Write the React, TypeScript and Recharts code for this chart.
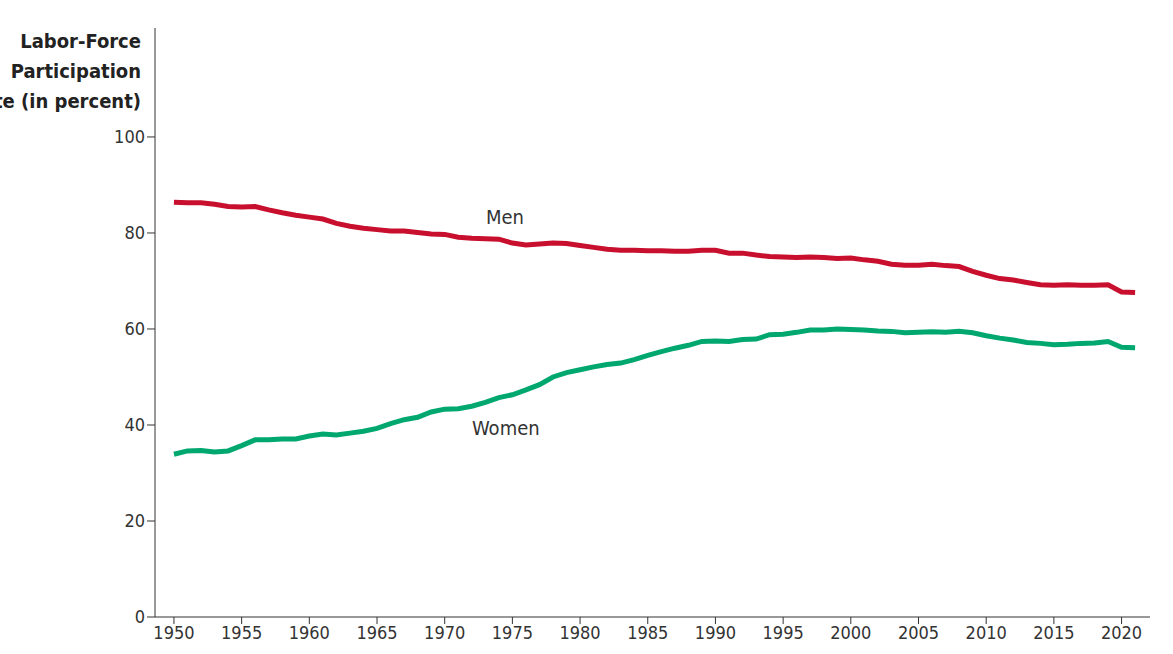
import { LineChart, Line, XAxis, YAxis } from "recharts";

const years = Array.from({ length: 72 }, (_, i) => 1950 + i);
const men = [86.4, 86.3, 86.3, 86.0, 85.5, 85.4, 85.5, 84.8, 84.2, 83.7, 83.3, 82.9, 82.0, 81.4, 81.0, 80.7, 80.4, 80.4, 80.1, 79.8, 79.7, 79.1, 78.9, 78.8, 78.7, 77.9, 77.5, 77.7, 77.9, 77.8, 77.4, 77.0, 76.6, 76.4, 76.4, 76.3, 76.3, 76.2, 76.2, 76.4, 76.4, 75.8, 75.8, 75.4, 75.1, 75.0, 74.9, 75.0, 74.9, 74.7, 74.8, 74.4, 74.1, 73.5, 73.3, 73.3, 73.5, 73.2, 73.0, 72.0, 71.2, 70.5, 70.2, 69.7, 69.2, 69.1, 69.2, 69.1, 69.1, 69.2, 67.7, 67.6];
const women = [33.9, 34.6, 34.7, 34.4, 34.6, 35.7, 36.9, 36.9, 37.1, 37.1, 37.7, 38.1, 37.9, 38.3, 38.7, 39.3, 40.3, 41.1, 41.6, 42.7, 43.3, 43.4, 43.9, 44.7, 45.7, 46.3, 47.3, 48.4, 50.0, 50.9, 51.5, 52.1, 52.6, 52.9, 53.6, 54.5, 55.3, 56.0, 56.6, 57.4, 57.5, 57.4, 57.8, 57.9, 58.8, 58.9, 59.3, 59.8, 59.8, 60.0, 59.9, 59.8, 59.6, 59.5, 59.2, 59.3, 59.4, 59.3, 59.5, 59.2, 58.6, 58.1, 57.7, 57.2, 57.0, 56.7, 56.8, 57.0, 57.1, 57.4, 56.2, 56.1];
const xTicks = [1950, 1955, 1960, 1965, 1970, 1975, 1980, 1985, 1990, 1995, 2000, 2005, 2010, 2015, 2020];
const yTicks = [0, 20, 40, 60, 80, 100];
const titleLines = ["Labor-Force", "Participation", "Rate (in percent)"];

const data = years.map((year, i) => ({ year, men: men[i], women: women[i] }));
const font = "'DejaVu Sans Condensed', 'DejaVu Sans', sans-serif";
const tick = { fontSize: 18, fill: "#333", fontFamily: font, style: { fontStretch: "condensed" } };

export default function App() {
  return (
    <div style={{ position: "absolute", left: 0, top: 0, width: 1173, height: 654, background: "#fff", fontStretch: "condensed" }}>
      <LineChart width={1173} height={654} data={data} margin={{ top: 28, right: 23, bottom: 0, left: 0 }}>
        <XAxis dataKey="year" type="number" domain={[1948.6, 2022.1]} ticks={xTicks} tick={tick}
          stroke="#333" tickSize={7} height={37} interval={0} />
        <YAxis type="number" domain={[0, 122.7]} ticks={yTicks} tick={tick} stroke="#333"
          tickSize={8} width={155} allowDataOverflow />
        <Line dataKey="men" stroke="#c8102e" strokeWidth={5} dot={false} isAnimationActive={false} />
        <Line dataKey="women" stroke="#00a870" strokeWidth={5} dot={false} isAnimationActive={false} />
      </LineChart>
      <div style={{ position: "absolute", right: 1173 - 141, top: 26, textAlign: "right", fontFamily: font, fontStretch: "condensed", fontWeight: "bold", fontSize: 20, lineHeight: "30px", color: "#222", whiteSpace: "nowrap" }}>
        {titleLines.map(t => <div key={t}>{t}</div>)}
      </div>
      <div style={{ position: "absolute", left: 486, top: 205, fontFamily: font, fontStretch: "condensed", fontSize: 20, color: "#333" }}>Men</div>
      <div style={{ position: "absolute", left: 472, top: 416, fontFamily: font, fontStretch: "condensed", fontSize: 20, color: "#333" }}>Women</div>
    </div>
  );
}
